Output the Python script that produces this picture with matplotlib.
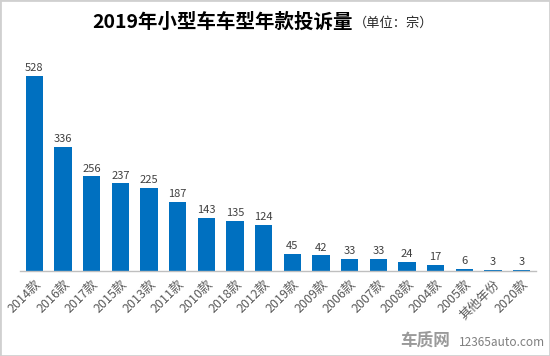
import matplotlib
matplotlib.use("Agg")
import matplotlib.pyplot as plt
from matplotlib.patches import Rectangle

plt.rcParams['font.family'] = ['Noto Sans CJK SC', 'DejaVu Sans']

categories = ["2014款", "2016款", "2017款", "2015款", "2013款", "2011款", "2010款", "2018款",
              "2012款", "2019款", "2009款", "2006款", "2007款", "2008款", "2004款", "2005款",
              "其他年份", "2020款"]
values = [528, 336, 256, 237, 225, 187, 143, 135, 124, 45, 42, 33, 33, 24, 17, 6, 3, 3]

fig = plt.figure(figsize=(5.5, 3.56), dpi=100)
ax = fig.add_axes([20/550, 1 - 271/356, 516/550, 215/356])

x = list(range(len(categories)))
bars = ax.bar(x, values, width=0.6, color="#0070C0")
for xi, v in zip(x, values):
    ax.text(xi, v + 8, str(v), ha="center", va="bottom", fontsize=8, color="#404040")

ax.set_xlim(-0.5, len(categories) - 0.5)
ax.set_ylim(0, 528 * 215 / 195)
ax.set_yticks([])
ax.set_xticks(x)
ax.set_xticklabels(categories, rotation=45, ha="right", rotation_mode="anchor",
                   fontsize=9, color="#595959")
ax.tick_params(axis="x", length=0, pad=5)
for s in ["top", "right", "left"]:
    ax.spines[s].set_visible(False)
ax.spines["bottom"].set_color("#BFBFBF")
ax.spines["bottom"].set_linewidth(1)

fig.text(353/550, 1 - 22/356, "2019年小型车车型年款投诉量", ha="right", va="center",
         fontsize=14, fontweight="bold", color="#000000")
fig.text(354/550, 1 - 23/356, "（单位：宗）", ha="left", va="center",
         fontsize=9.5, color="#262626")

fig.text(0.773, 1 - 341/356, "车质网", ha="center", va="center", fontsize=12,
         fontweight="bold", color="#9A9A9A")
fig.text(0.913, 1 - 342/356, "12365auto.com", ha="center", va="center", fontsize=8.5,
         color="#7F7F7F")

fig.patches.append(Rectangle((0, 0), 1, 1, transform=fig.transFigure, fill=False,
                             edgecolor="#D0D0D0", linewidth=2))

fig.savefig("out.png", dpi=100)
